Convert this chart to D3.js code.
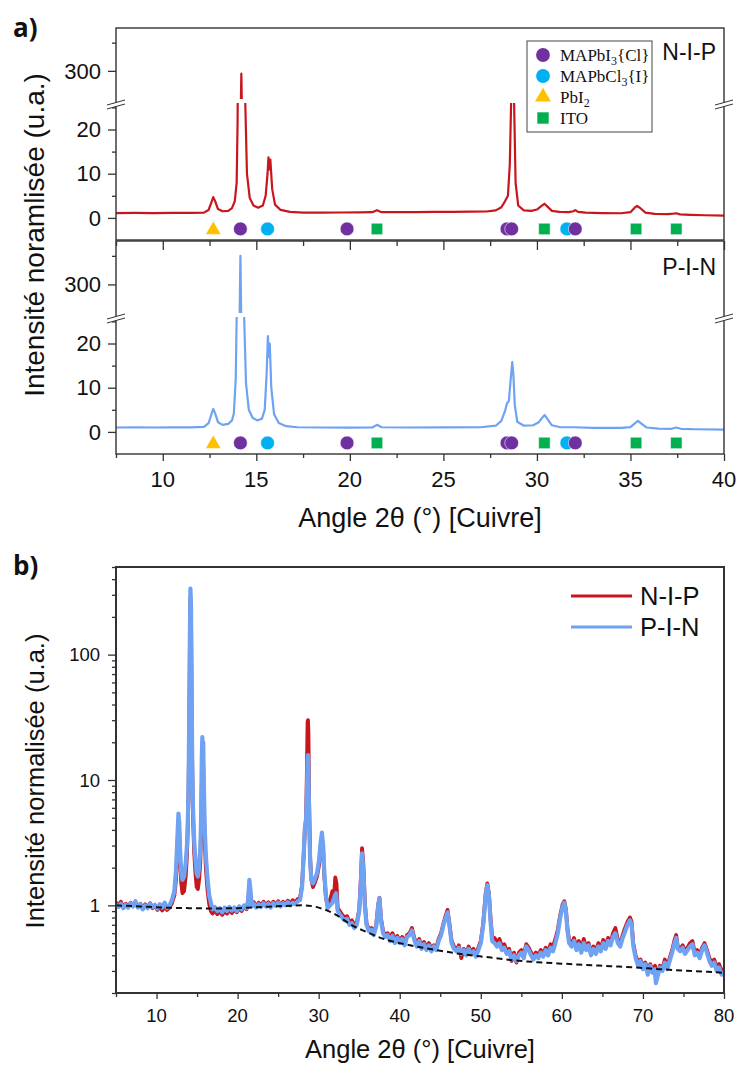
<!DOCTYPE html>
<html><head><meta charset="utf-8">
<script src="https://cdn.jsdelivr.net/npm/d3@7"></script>
<style>body{margin:0;background:#fff}svg{display:block}</style>
</head><body>
<svg id="c" width="738" height="1066"></svg>
<script>
// ---------------- DATA ----------------
// Panel a : angle domain, broken y axis
const aAngleDomain = [7.5, 40];
const aAngleMajor = [10, 15, 20, 25, 30, 35, 40];
const aAngleMinor = [7.5, 12.5, 17.5, 22.5, 27.5, 32.5, 37.5];
const aLowDomain = [-5, 26];
const aHighDomain = [243, 376];
const aLowMajor = [0, 10, 20];
const aLowMinor = [5, 15, 25];
const aHighMajor = [300];
const aHighMinor = [350];

const aNIP = [[7.5,1.1],[8.5,1.12],[9.5,1.1],[10.5,1.15],[11.5,1.12],[12.2,1.2],[12.45,1.8],[12.6,3.5],[12.7,4.7],[12.8,3.8],[12.95,2.0],[13.2,1.5],[13.5,1.6],[13.7,2.2],[13.85,3.8],[13.95,8],[14.0,22],[14.1,90],[14.2,295],[14.3,90],[14.4,28],[14.5,10],[14.65,4.5],[14.85,2.8],[15.1,2.3],[15.35,2.8],[15.5,5],[15.6,10],[15.65,13.7],[15.7,11],[15.75,13.2],[15.85,6.5],[16.0,3.0],[16.3,1.8],[16.8,1.35],[17.5,1.2],[18.5,1.2],[19.5,1.22],[20.5,1.25],[21.2,1.3],[21.45,1.75],[21.7,1.3],[22.5,1.3],[23.5,1.32],[24.5,1.35],[25.5,1.38],[26.5,1.4],[27.3,1.45],[27.8,1.7],[28.1,2.4],[28.3,3.8],[28.45,5],[28.55,12],[28.62,26],[28.7,30],[28.78,26],[28.86,8],[29.0,2.8],[29.3,1.7],[29.7,1.6],[30.0,1.9],[30.25,2.7],[30.4,3.2],[30.55,2.6],[30.8,1.6],[31.2,1.35],[31.7,1.3],[31.95,1.5],[32.05,1.75],[32.2,1.35],[32.6,1.2],[33.5,1.1],[34.5,1.05],[35.0,1.3],[35.2,2.2],[35.35,2.7],[35.5,2.3],[35.8,1.2],[36.3,0.9],[37.0,0.85],[37.3,0.95],[37.45,1.05],[37.65,0.8],[38.2,0.7],[39,0.6],[40,0.5]];

const aPIN = [[7.5,1.0],[8.5,1.02],[9.5,1.0],[10.5,1.03],[11.5,1.02],[12.2,1.15],[12.45,2.0],[12.6,4.0],[12.7,5.2],[12.8,4.2],[12.95,2.2],[13.2,1.6],[13.5,1.8],[13.7,2.6],[13.8,4.2],[13.9,12],[13.95,26],[14.05,100],[14.15,350],[14.25,100],[14.35,26],[14.45,11],[14.6,5],[14.8,3.2],[15.05,2.6],[15.3,3.0],[15.45,5],[15.55,13],[15.62,21.7],[15.67,17],[15.72,20],[15.8,10],[15.95,4],[16.2,2.0],[16.6,1.3],[17.2,1.05],[18.5,1.0],[20.0,0.98],[21.2,1.0],[21.45,1.6],[21.7,1.05],[23,1.0],[25,1.02],[27,1.05],[27.8,1.4],[28.1,2.5],[28.3,4.8],[28.4,6.5],[28.5,7],[28.6,12],[28.68,15.8],[28.74,13],[28.82,6],[28.95,2.3],[29.3,1.4],[29.8,1.5],[30.1,2.2],[30.3,3.3],[30.42,3.8],[30.55,3.0],[30.8,1.5],[31.2,1.1],[32.0,1.05],[33.0,0.9],[34.5,0.9],[35.0,1.1],[35.25,2.0],[35.4,2.5],[35.55,2.0],[35.85,1.0],[36.5,0.75],[37.2,0.7],[37.45,1.0],[37.7,0.7],[38.5,0.6],[40,0.5]];

// phase reference markers
const phaseKeys = ["MAPbI3", "MAPbCl3", "PbI2", "ITO"];
const phaseColors = ["#7030A0", "#00B0F0", "#FFC000", "#00B050"];
const phaseShapes = ["circle", "circle", "triangle", "square"];
const markerPhase = ["PbI2","MAPbI3","MAPbCl3","MAPbI3","ITO","MAPbI3","MAPbI3","ITO","MAPbCl3","MAPbI3","ITO","ITO"];
const markerAngle = [12.7, 14.15, 15.6, 19.85, 21.45, 28.4, 28.65, 30.4, 31.6, 32.05, 35.3, 37.45];
const markerLevel = -2.5;

// Panel b
const bAngleDomain = [5, 80];
const bAngleMajor = [10, 20, 30, 40, 50, 60, 70, 80];
const bAngleMinor = [5, 15, 25, 35, 45, 55, 65, 75];
const bIntDomain = [0.2, 500];
const bIntMajor = [1, 10, 100];
const bIntMinor = [0.2,0.3,0.4,0.5,0.6,0.7,0.8,0.9,2,3,4,5,6,7,8,9,20,30,40,50,60,70,80,90,200,300,400,500];

const bNIP = [[5.0,1.06],[5.3,0.99],[5.6,1.07],[5.9,0.97],[6.2,1.03],[6.5,0.98],[6.8,1.05],[7.1,0.99],[7.4,1.06],[7.7,0.97],[8.0,1.03],[8.3,0.95],[8.6,1.02],[8.9,0.96],[9.2,1.04],[9.5,0.95],[9.8,1.0],[10.1,0.92],[10.4,0.97],[10.7,0.91],[11.0,0.97],[11.3,0.92],[11.6,0.96],[11.9,1.04],[12.2,1.2],[12.4,1.6],[12.55,2.6],[12.7,4.6],[12.8,3.9],[12.9,2.3],[13.05,1.5],[13.2,1.25],[13.4,1.3],[13.6,1.7],[13.75,2.5],[13.85,4],[13.95,8],[14.05,30],[14.12,130],[14.18,285],[14.25,230],[14.32,50],[14.4,13],[14.5,5],[14.65,2.6],[14.8,1.8],[14.95,1.4],[15.1,1.35],[15.25,1.6],[15.4,2.2],[15.5,4],[15.58,9],[15.65,13.5],[15.7,11],[15.76,12.8],[15.84,6.5],[15.95,3.2],[16.1,1.9],[16.3,1.3],[16.5,1.02],[16.7,0.9],[16.9,0.86],[17.2,0.92],[17.5,0.85],[17.8,0.9],[18.1,0.84],[18.4,0.9],[18.7,0.86],[19.0,0.92],[19.3,0.87],[19.6,0.93],[19.9,0.88],[20.2,0.95],[20.5,0.9],[20.8,0.98],[21.1,0.93],[21.3,1.05],[21.45,1.45],[21.6,1.2],[21.75,1.0],[22.0,1.06],[22.3,0.98],[22.6,1.05],[22.9,1.0],[23.2,1.07],[23.5,1.0],[23.8,1.06],[24.1,0.99],[24.4,1.07],[24.7,1.01],[25.0,1.08],[25.3,1.0],[25.6,1.07],[25.9,1.02],[26.2,1.09],[26.5,1.03],[26.8,1.1],[27.1,1.05],[27.4,1.12],[27.7,1.15],[27.95,1.45],[28.15,2.5],[28.3,4],[28.45,5],[28.55,12],[28.63,29],[28.68,30],[28.74,24],[28.82,7],[28.95,2.4],[29.1,1.6],[29.3,1.4],[29.5,1.5],[29.8,1.7],[30.05,2.1],[30.25,2.9],[30.4,3.4],[30.55,2.8],[30.7,1.7],[30.9,1.15],[31.1,1.0],[31.4,1.1],[31.7,1.3],[31.9,1.2],[32.05,1.67],[32.2,1.5],[32.35,0.95],[32.6,0.9],[32.9,0.84],[33.2,0.8],[33.5,0.82],[33.8,0.74],[34.1,0.76],[34.4,0.7],[34.7,0.73],[35.0,0.92],[35.2,1.6],[35.35,2.86],[35.5,2.2],[35.7,1.05],[35.9,0.72],[36.2,0.64],[36.5,0.66],[36.8,0.6],[37.1,0.7],[37.35,1.02],[37.5,1.15],[37.7,0.78],[37.95,0.62],[38.2,0.58],[38.5,0.6],[38.8,0.55],[39.1,0.6],[39.4,0.53],[39.7,0.57],[40.0,0.52],[40.3,0.56],[40.6,0.5],[40.9,0.58],[41.2,0.6],[41.5,0.66],[41.8,0.55],[42.1,0.49],[42.4,0.54],[42.7,0.47],[43.0,0.51],[43.3,0.46],[43.6,0.5],[43.9,0.45],[44.2,0.48],[44.5,0.46],[44.8,0.54],[45.1,0.6],[45.4,0.72],[45.7,0.84],[45.9,0.92],[46.1,0.74],[46.4,0.52],[46.7,0.47],[47.0,0.44],[47.3,0.48],[47.6,0.38],[47.9,0.45],[48.2,0.41],[48.5,0.47],[48.8,0.42],[49.1,0.45],[49.4,0.4],[49.7,0.46],[50.0,0.52],[50.3,0.72],[50.6,1.25],[50.8,1.5],[51.0,1.25],[51.2,0.8],[51.4,0.56],[51.7,0.55],[52.0,0.5],[52.3,0.54],[52.6,0.47],[52.9,0.49],[53.2,0.43],[53.5,0.45],[53.8,0.36],[54.1,0.42],[54.4,0.35],[54.7,0.42],[55.0,0.44],[55.3,0.4],[55.6,0.49],[55.9,0.46],[56.2,0.42],[56.5,0.39],[56.8,0.42],[57.1,0.4],[57.4,0.44],[57.7,0.41],[58.0,0.46],[58.3,0.42],[58.6,0.49],[58.9,0.47],[59.2,0.54],[59.5,0.64],[59.8,0.84],[60.1,1.02],[60.3,1.08],[60.5,0.93],[60.7,0.64],[60.9,0.53],[61.2,0.49],[61.5,0.55],[61.8,0.46],[62.1,0.52],[62.4,0.44],[62.7,0.54],[63.0,0.46],[63.3,0.5],[63.6,0.42],[63.9,0.47],[64.2,0.43],[64.5,0.5],[64.8,0.45],[65.1,0.53],[65.4,0.47],[65.7,0.55],[66.0,0.5],[66.3,0.6],[66.6,0.66],[66.9,0.53],[67.2,0.49],[67.5,0.58],[67.8,0.66],[68.1,0.74],[68.4,0.8],[68.6,0.74],[68.8,0.5],[69.1,0.4],[69.4,0.35],[69.7,0.37],[70.0,0.33],[70.3,0.35],[70.6,0.3],[70.9,0.34],[71.2,0.3],[71.5,0.33],[71.6,0.25],[71.8,0.29],[72.1,0.33],[72.4,0.31],[72.7,0.37],[73.0,0.32],[73.3,0.38],[73.6,0.44],[73.9,0.53],[74.1,0.58],[74.3,0.47],[74.6,0.45],[74.9,0.48],[75.2,0.43],[75.5,0.46],[75.8,0.5],[76.1,0.52],[76.4,0.42],[76.7,0.44],[77.0,0.4],[77.3,0.46],[77.6,0.5],[77.9,0.44],[78.2,0.38],[78.5,0.35],[78.8,0.37],[79.1,0.32],[79.4,0.34],[79.7,0.3],[80.0,0.31]];

const bPIN = [[5,1.02],[5.3,0.97],[5.6,1.03],[5.9,0.95],[6.2,1.01],[6.5,0.96],[6.8,1.04],[7.1,0.98],[7.4,1.08],[7.7,0.96],[8.0,1.02],[8.3,0.93],[8.6,1.0],[8.9,0.95],[9.2,1.03],[9.5,0.97],[9.8,1.01],[10.1,0.94],[10.4,1.02],[10.7,0.96],[11.0,1.05],[11.3,0.95],[11.6,1.0],[11.9,1.1],[12.2,1.3],[12.4,1.9],[12.55,3.2],[12.7,5.4],[12.8,4.6],[12.9,2.8],[13.05,1.8],[13.2,1.6],[13.4,1.7],[13.6,2.2],[13.75,3.0],[13.85,4.5],[13.95,9],[14.05,40],[14.12,160],[14.18,337],[14.25,250],[14.32,60],[14.4,15],[14.5,6],[14.65,3.2],[14.8,2.3],[14.95,1.8],[15.1,1.7],[15.25,2.0],[15.4,2.8],[15.5,5],[15.58,15],[15.65,22],[15.7,18],[15.76,20],[15.84,9],[15.95,4],[16.1,2.4],[16.3,1.6],[16.5,1.2],[16.7,1.05],[16.9,0.93],[17.2,0.97],[17.5,0.9],[17.8,0.95],[18.1,0.88],[18.4,0.96],[18.7,0.9],[19.0,0.97],[19.3,0.91],[19.6,0.96],[19.9,0.9],[20.2,0.98],[20.5,0.93],[20.8,1.0],[21.1,0.95],[21.3,1.1],[21.45,1.6],[21.6,1.3],[21.75,0.98],[22.0,1.03],[22.3,0.96],[22.6,1.02],[22.9,0.97],[23.2,1.04],[23.5,0.98],[23.8,1.03],[24.1,0.96],[24.4,1.04],[24.7,0.99],[25.0,1.05],[25.3,0.98],[25.6,1.04],[25.9,1.0],[26.2,1.06],[26.5,1.0],[26.8,1.05],[27.1,1.02],[27.4,1.08],[27.7,1.1],[27.95,1.4],[28.15,2.5],[28.3,4.2],[28.45,4.8],[28.55,8],[28.63,14],[28.68,15.8],[28.74,12],[28.82,5],[28.95,2.2],[29.1,1.6],[29.3,1.5],[29.5,1.6],[29.8,1.8],[30.05,2.3],[30.25,3.2],[30.4,3.8],[30.55,3.0],[30.7,1.8],[30.9,1.2],[31.1,0.95],[31.4,1.0],[31.7,1.05],[32.0,1.2],[32.15,1.25],[32.35,0.9],[32.6,0.85],[32.9,0.8],[33.2,0.76],[33.5,0.78],[33.8,0.7],[34.1,0.72],[34.4,0.66],[34.7,0.7],[35.0,0.9],[35.2,1.5],[35.35,2.6],[35.5,2.0],[35.7,1.0],[35.9,0.7],[36.2,0.62],[36.5,0.64],[36.8,0.58],[37.1,0.68],[37.35,1.0],[37.5,1.14],[37.7,0.75],[37.95,0.6],[38.2,0.56],[38.5,0.58],[38.8,0.52],[39.1,0.57],[39.4,0.5],[39.7,0.55],[40.0,0.5],[40.3,0.54],[40.6,0.48],[40.9,0.56],[41.2,0.58],[41.5,0.63],[41.8,0.53],[42.1,0.47],[42.4,0.52],[42.7,0.45],[43.0,0.49],[43.3,0.44],[43.6,0.48],[43.9,0.43],[44.2,0.47],[44.5,0.44],[44.8,0.52],[45.1,0.58],[45.4,0.7],[45.7,0.8],[45.9,0.88],[46.1,0.72],[46.4,0.5],[46.7,0.45],[47.0,0.43],[47.3,0.46],[47.6,0.41],[47.9,0.44],[48.2,0.4],[48.5,0.45],[48.8,0.41],[49.1,0.43],[49.4,0.39],[49.7,0.44],[50.0,0.5],[50.3,0.7],[50.6,1.2],[50.8,1.45],[51.0,1.2],[51.2,0.75],[51.4,0.52],[51.7,0.5],[52.0,0.47],[52.3,0.5],[52.6,0.44],[52.9,0.46],[53.2,0.41],[53.5,0.43],[53.8,0.37],[54.1,0.4],[54.4,0.36],[54.7,0.4],[55.0,0.42],[55.3,0.38],[55.6,0.47],[55.9,0.44],[56.2,0.4],[56.5,0.37],[56.8,0.4],[57.1,0.38],[57.4,0.42],[57.7,0.39],[58.0,0.44],[58.3,0.4],[58.6,0.46],[58.9,0.43],[59.2,0.5],[59.5,0.6],[59.8,0.8],[60.1,0.98],[60.3,1.05],[60.5,0.9],[60.7,0.62],[60.9,0.5],[61.2,0.47],[61.5,0.52],[61.8,0.44],[62.1,0.49],[62.4,0.42],[62.7,0.5],[63.0,0.44],[63.3,0.48],[63.6,0.4],[63.9,0.45],[64.2,0.41],[64.5,0.47],[64.8,0.43],[65.1,0.5],[65.4,0.45],[65.7,0.52],[66.0,0.48],[66.3,0.56],[66.6,0.6],[66.9,0.5],[67.2,0.47],[67.5,0.55],[67.8,0.62],[68.1,0.7],[68.4,0.76],[68.6,0.7],[68.8,0.48],[69.1,0.38],[69.4,0.33],[69.7,0.36],[70.0,0.31],[70.3,0.34],[70.6,0.28],[70.9,0.33],[71.2,0.29],[71.5,0.31],[71.6,0.24],[71.8,0.27],[72.1,0.32],[72.4,0.3],[72.7,0.35],[73.0,0.31],[73.3,0.36],[73.6,0.42],[73.9,0.5],[74.1,0.55],[74.3,0.45],[74.6,0.43],[74.9,0.46],[75.2,0.41],[75.5,0.44],[75.8,0.47],[76.1,0.49],[76.4,0.4],[76.7,0.42],[77.0,0.38],[77.3,0.44],[77.6,0.48],[77.9,0.42],[78.2,0.36],[78.5,0.33],[78.8,0.35],[79.1,0.3],[79.4,0.32],[79.7,0.28],[80.0,0.29]];

const bBackground = [[5,1.0],[8,0.98],[11,0.96],[14,0.95],[17,0.945],[20,0.95],[23,0.97],[26,0.99],[28,1.0],[30,0.96],[32,0.85],[34,0.7],[36,0.61],[38,0.54],[40,0.5],[42,0.47],[45,0.435],[48,0.405],[51,0.385],[54,0.365],[57,0.352],[60,0.343],[63,0.335],[66,0.327],[69,0.32],[72,0.31],[75,0.302],[78,0.295],[80,0.29]];

const seriesNames = ["N-I-P", "P-I-N"];
const seriesColors = ["#C8161D", "#6FA2F2"];

// ---------------- DRAWING ----------------
const SANS = "'Liberation Sans', Arial, sans-serif";
const svg = d3.select("#c");
const AXC = "#333";

function txt(x, y, s, size, anchor, extra) {
  const t = svg.append("text").attr("x", x).attr("y", y).text(s)
    .attr("font-family", SANS).attr("font-size", size)
    .attr("text-anchor", anchor || "start").attr("fill", "#111");
  if (extra) extra(t);
  return t;
}

// ===== Panel a =====
const aL = 116, aR = 724;
const ax = d3.scaleLinear().domain(aAngleDomain).range([aL, aR]);

const subs = [
  {top: 28, bottom: 240, data: aNIP, color: seriesColors[0], label: seriesNames[0], labelY: 60},
  {top: 241, bottom: 454, data: aPIN, color: seriesColors[1], label: seriesNames[1], labelY: 275}
];

subs.forEach((s, i) => {
  const brk = s.bottom - 137;
  const yLow = d3.scaleLinear().domain(aLowDomain).range([s.bottom, brk]);
  const yHigh = d3.scaleLinear().domain(aHighDomain).range([brk, s.top]);

  const defs = svg.append("defs");
  defs.append("clipPath").attr("id", "lo" + i).append("rect")
    .attr("x", aL).attr("y", brk).attr("width", aR - aL).attr("height", s.bottom - brk);
  defs.append("clipPath").attr("id", "hi" + i).append("rect")
    .attr("x", aL).attr("y", s.top).attr("width", aR - aL).attr("height", brk - s.top - 4);

  svg.append("path").datum(s.data).attr("clip-path", `url(#lo${i})`)
    .attr("fill", "none").attr("stroke", s.color).attr("stroke-width", 2.2).attr("stroke-linejoin", "round")
    .attr("d", d3.line().x(d => ax(d[0])).y(d => yLow(d[1])));
  svg.append("path").datum(s.data).attr("clip-path", `url(#hi${i})`)
    .attr("fill", "none").attr("stroke", s.color).attr("stroke-width", 2.2).attr("stroke-linejoin", "round")
    .attr("d", d3.line().x(d => ax(d[0])).y(d => yHigh(d[1])));

  // markers
  markerAngle.forEach((a, k) => {
    const p = phaseKeys.indexOf(markerPhase[k]);
    const x = ax(a), y = yLow(markerLevel);
    const sym = phaseShapes[p] === "circle" ? d3.symbolCircle : phaseShapes[p] === "triangle" ? d3.symbolTriangle : d3.symbolSquare;
    const size = phaseShapes[p] === "circle" ? 150 : phaseShapes[p] === "triangle" ? 105 : 132;
    svg.append("path").attr("d", d3.symbol(sym, size)())
      .attr("transform", `translate(${x},${y + (phaseShapes[p]==="triangle"?1:0)})`)
      .attr("fill", phaseColors[p]).attr("stroke", "rgba(255,255,255,0.7)").attr("stroke-width", 0.8);
  });

  // left ticks
  const gl = svg.append("g").attr("transform", `translate(${aL},0)`);
  gl.call(d3.axisLeft(yLow).tickValues(aLowMajor).tickSize(8).tickFormat(""));
  gl.call(g => g.select(".domain").remove());
  const gl2 = svg.append("g").attr("transform", `translate(${aL},0)`);
  gl2.call(d3.axisLeft(yLow).tickValues(aLowMinor).tickSize(4).tickFormat(""));
  gl2.call(g => g.select(".domain").remove());
  const gh = svg.append("g").attr("transform", `translate(${aL},0)`);
  gh.call(d3.axisLeft(yHigh).tickValues(aHighMajor).tickSize(8).tickFormat(""));
  gh.call(g => g.select(".domain").remove());
  const gh2 = svg.append("g").attr("transform", `translate(${aL},0)`);
  gh2.call(d3.axisLeft(yHigh).tickValues(aHighMinor).tickSize(4).tickFormat(""));
  gh2.call(g => g.select(".domain").remove());
  svg.selectAll("g line").attr("stroke", AXC).attr("stroke-width", 1.3);

  aLowMajor.forEach(v => txt(101, yLow(v) + 7.7, d3.format("d")(v), 22, "end"));
  aHighMajor.forEach(v => txt(101, yHigh(v) + 7.7, d3.format("d")(v), 22, "end"));

  // frame
  svg.append("rect").attr("x", aL).attr("y", s.top).attr("width", aR - aL).attr("height", s.bottom - s.top)
    .attr("fill", "none").attr("stroke", AXC).attr("stroke-width", 1.4);

  // break marks
  [aL, aR].forEach(bx => {
    svg.append("polygon")
      .attr("points", `${bx-9},${brk+2} ${bx+9},${brk-3} ${bx+9},${brk+1} ${bx-9},${brk+6}`)
      .attr("fill", "#fff");
    svg.append("line").attr("x1", bx - 9).attr("y1", brk + 2).attr("x2", bx + 9).attr("y2", brk - 3)
      .attr("stroke", AXC).attr("stroke-width", 1);
    svg.append("line").attr("x1", bx - 9).attr("y1", brk + 6).attr("x2", bx + 9).attr("y2", brk + 1)
      .attr("stroke", AXC).attr("stroke-width", 1);
  });

  txt(716, s.labelY, s.label, 23, "end");
});

// x axis ticks panel a: bottom outward, top of lower subpanel inward
{
  const gb = svg.append("g").attr("transform", `translate(0,454)`);
  gb.call(d3.axisBottom(ax).tickValues(aAngleMajor).tickSize(7).tickFormat(""));
  gb.call(g => g.select(".domain").remove());
  const gb2 = svg.append("g").attr("transform", `translate(0,454)`);
  gb2.call(d3.axisBottom(ax).tickValues(aAngleMinor).tickSize(4).tickFormat(""));
  gb2.call(g => g.select(".domain").remove());
  const gt = svg.append("g").attr("transform", `translate(0,241)`);
  gt.call(d3.axisTop(ax).tickValues(aAngleMajor).tickSize(-9).tickFormat(""));
  gt.call(g => g.select(".domain").remove());
  const gt2 = svg.append("g").attr("transform", `translate(0,241)`);
  gt2.call(d3.axisTop(ax).tickValues(aAngleMinor).tickSize(-5).tickFormat(""));
  gt2.call(g => g.select(".domain").remove());
  svg.selectAll("g line").attr("stroke", AXC).attr("stroke-width", 1.3);
  aAngleMajor.forEach(v => txt(ax(v), 487, d3.format("d")(v), 22, "middle"));
}

// legend a
{
  svg.append("rect").attr("x", 527).attr("y", 41).attr("width", 125).attr("height", 91)
    .attr("fill", "#fff").attr("stroke", "#444").attr("stroke-width", 1);
  const labels = [["MAPbI", "3", "{Cl}"], ["MAPbCl", "3", "{I}"], ["PbI", "2", ""], ["ITO", "", ""]];
  phaseKeys.forEach((k, i) => {
    const y = 55 + i * 21;
    const sym = phaseShapes[i] === "circle" ? d3.symbolCircle : phaseShapes[i] === "triangle" ? d3.symbolTriangle : d3.symbolSquare;
    const size = phaseShapes[i] === "circle" ? 150 : phaseShapes[i] === "triangle" ? 110 : 130;
    svg.append("path").attr("d", d3.symbol(sym, size)()).attr("transform", `translate(543,${y})`)
      .attr("fill", phaseColors[i]);
    const t = svg.append("text").attr("x", 560).attr("y", y + 6)
      .attr("font-family", "'Liberation Serif','DejaVu Serif',serif").attr("font-size", 17).attr("fill", "#111");
    t.append("tspan").text(labels[i][0]);
    if (labels[i][1]) t.append("tspan").attr("dy", 4).attr("font-size", 12).text(labels[i][1]);
    if (labels[i][2]) t.append("tspan").attr("dy", -4).text(labels[i][2]);
  });
}

// panel a titles
txt(13, 37, "a)", 26, "start", t => t.attr("font-family", "'Open Sans', sans-serif").attr("font-weight", "bold"));
txt(0, 0, "Intensité noramlisée (u.a.)", 28, "middle", t => t.attr("transform", "translate(44,235) rotate(-90)"));
txt(420, 527, "Angle 2θ (°) [Cuivre]", 27, "middle");

// ===== Panel b =====
const bL = 116, bR = 724, bT = 567, bB = 993;
const bx = d3.scaleLinear().domain(bAngleDomain).range([bL, bR]);
const by = d3.scaleLog().domain(bIntDomain).range([bB, bT]);

svg.append("defs").append("clipPath").attr("id", "bclip").append("rect")
  .attr("x", bL).attr("y", bT).attr("width", bR - bL).attr("height", bB - bT);

const bline = d3.line().x(d => bx(d[0])).y(d => by(d[1]));
svg.append("path").datum(bNIP).attr("clip-path", "url(#bclip)").attr("fill", "none")
  .attr("stroke", seriesColors[0]).attr("stroke-width", 3.8).attr("stroke-linejoin", "round").attr("d", bline);
svg.append("path").datum(bPIN).attr("clip-path", "url(#bclip)").attr("fill", "none")
  .attr("stroke", seriesColors[1]).attr("stroke-width", 4.2).attr("stroke-linejoin", "round").attr("d", bline);
svg.append("path").datum(bBackground).attr("clip-path", "url(#bclip)").attr("fill", "none")
  .attr("stroke", "#111").attr("stroke-width", 2).attr("stroke-dasharray", "6,4")
  .attr("d", d3.line().curve(d3.curveMonotoneX).x(d => bx(d[0])).y(d => by(d[1])));

{
  const g1 = svg.append("g").attr("transform", `translate(${bL},0)`);
  g1.call(d3.axisLeft(by).tickValues(bIntMajor).tickSize(8).tickFormat(""));
  g1.call(g => g.select(".domain").remove());
  const g2 = svg.append("g").attr("transform", `translate(${bL},0)`);
  g2.call(d3.axisLeft(by).tickValues(bIntMinor).tickSize(4).tickFormat(""));
  g2.call(g => g.select(".domain").remove());
  const g3 = svg.append("g").attr("transform", `translate(0,${bB})`);
  g3.call(d3.axisBottom(bx).tickValues(bAngleMajor).tickSize(6).tickFormat(""));
  g3.call(g => g.select(".domain").remove());
  const g4 = svg.append("g").attr("transform", `translate(0,${bB})`);
  g4.call(d3.axisBottom(bx).tickValues(bAngleMinor).tickSize(4).tickFormat(""));
  g4.call(g => g.select(".domain").remove());
  svg.selectAll("g line").attr("stroke", AXC).attr("stroke-width", 1.3);
  bIntMajor.forEach(v => txt(100, by(v) + 6.5, d3.format("d")(v), 18.5, "end"));
  bAngleMajor.forEach(v => txt(bx(v), 1022, d3.format("d")(v), 18.5, "middle"));
  svg.append("rect").attr("x", bL).attr("y", bT).attr("width", bR - bL).attr("height", bB - bT)
    .attr("fill", "none").attr("stroke", AXC).attr("stroke-width", 2);
}

// legend b
seriesNames.forEach((n, i) => {
  const y = 596 + i * 31;
  svg.append("line").attr("x1", 571).attr("x2", 632).attr("y1", y).attr("y2", y)
    .attr("stroke", seriesColors[i]).attr("stroke-width", 3);
  txt(640, y + 9, n, 25.5, "start");
});

txt(13, 575, "b)", 26, "start", t => t.attr("font-family", "'Open Sans', sans-serif").attr("font-weight", "bold"));
txt(0, 0, "Intensité normalisée (u.a.)", 25.5, "middle", t => t.attr("transform", "translate(44,781) rotate(-90)"));
txt(420, 1058, "Angle 2θ (°) [Cuivre]", 25.5, "middle");
</script>
</body></html>
